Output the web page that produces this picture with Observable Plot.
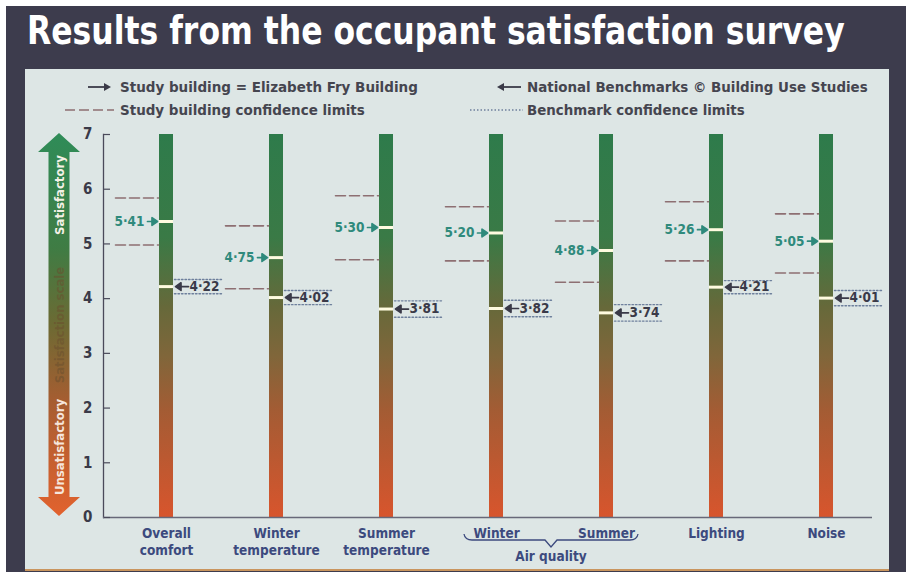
<!DOCTYPE html>
<html><head><meta charset="utf-8">
<script src="https://cdn.jsdelivr.net/npm/d3@7"></script>
<script src="https://cdn.jsdelivr.net/npm/@observablehq/plot@0.6"></script>
<style>
html,body{margin:0;padding:0;background:#ffffff;width:906px;height:572px;overflow:hidden;}
#frame{position:absolute;left:6px;top:6px;width:900px;height:566px;background:#3d3c4d;}
#title{position:absolute;left:0;top:0;overflow:visible;}
#panel{position:absolute;left:25px;top:69px;width:864px;height:500px;background:#dde6e5;border-bottom:2px solid #c9955e;}
#panel svg{display:block;}
text{font-stretch:condensed;}
</style></head><body>
<div id="frame"></div>
<svg id="title" width="906" height="69"></svg>
<div id="panel"></div>
<script>
const categories = ["Overall comfort","Winter temperature","Summer temperature","Air quality winter","Air quality summer","Lighting","Noise"];
const tickLabels = ["Overall\ncomfort","Winter\ntemperature","Summer\ntemperature","Winter","Summer","Lighting","Noise"];
const studyValues = [5.41,4.75,5.30,5.20,4.88,5.26,5.05];
const studyUpper  = [5.84,5.33,5.88,5.68,5.42,5.77,5.55];
const studyLower  = [4.98,4.18,4.71,4.69,4.30,4.69,4.47];
const benchValues = [4.22,4.02,3.81,3.82,3.74,4.21,4.01];
const benchUpper  = [4.35,4.15,3.96,3.97,3.89,4.33,4.15];
const benchLower  = [4.09,3.89,3.66,3.67,3.59,4.09,3.87];
const yTicks = [0,1,2,3,4,5,6,7];
const scaleMax = 7;
const titleText = "Results from the occupant satisfaction survey";
const legendTexts = ["Study building = Elizabeth Fry Building","National Benchmarks © Building Use Studies","Study building confidence limits","Benchmark confidence limits"];
const groupLabel = "Air quality";
const scaleLabels = ["Satisfactory","Satisfaction scale","Unsatisfactory"];

const FONT = "'DejaVu Sans Condensed','DejaVu Sans','Liberation Sans',sans-serif";
const fmt = v => d3.format(".2f")(v).replace(".", "·");

const rows = categories.map((cat, i) => ({cat, study: studyValues[i], bench: benchValues[i]}));
const studyCL = categories.flatMap((cat, i) => [{cat, v: studyUpper[i]}, {cat, v: studyLower[i]}]);
const benchCL = categories.flatMap((cat, i) => [{cat, v: benchUpper[i]}, {cat, v: benchLower[i]}]);

const lineShape = {draw(ctx, l) { ctx.moveTo(0, 0); ctx.lineTo(0, -l); }};
const arrowShape = {draw(ctx, l) {
  const h = 5.5, w = 3.8;
  ctx.moveTo(0, 0); ctx.lineTo(0, -l + h);
  ctx.moveTo(0, -l); ctx.lineTo(-w, -l + h); ctx.lineTo(w, -l + h); ctx.closePath();
}};

const studyColor = "#2f8a7c", benchColor = "#3a3a48";

const chart = Plot.plot({
  width: 864, height: 500,
  marginTop: 65, marginBottom: 52, marginLeft: 78, marginRight: 17,
  style: {background: "transparent", fontFamily: FONT, overflow: "visible"},
  x: {type: "band", domain: categories, range: [85.5, 855.5], paddingInner: 0.873, paddingOuter: 0.4365, label: null},
  y: {domain: [0, scaleMax], label: null},
  marks: [
    Plot.barY(rows, {x: "cat", y1: 0, y2: scaleMax, fill: "url(#barGrad)"}),
    Plot.frame({anchor: "left", stroke: "#4a4a5a", strokeWidth: 1.3}),
    Plot.ruleY([0], {stroke: "#676879", strokeWidth: 1.6}),
    Plot.tickY(yTicks, {y: d => d, insetLeft: 1, insetRight: 762, stroke: "#4a4a5a", strokeWidth: 1.2}),
    Plot.axisY({ticks: yTicks, tickFormat: d => String(d), tickSize: 0, tickPadding: 11, fontSize: 15, fontWeight: "bold", fill: "#3a3a48"}),
    Plot.vector(studyCL, {x: "cat", y: "v", rotate: 90, anchor: "end", length: 43, dx: -8, shape: lineShape, stroke: "#8d6f72", strokeWidth: 1.6, strokeDasharray: "10,4"}),
    Plot.vector(benchCL, {x: "cat", y: "v", rotate: 90, anchor: "start", length: 48, dx: 8, shape: lineShape, stroke: "#6d7f9c", strokeWidth: 1.4, strokeDasharray: "1.5,2"}),
    Plot.tickY(rows, {x: "cat", y: "study", stroke: "#fffbe0", strokeWidth: 3}),
    Plot.tickY(rows, {x: "cat", y: "bench", stroke: "#fffbe0", strokeWidth: 3}),
    Plot.vector(rows, {x: "cat", y: "study", rotate: 90, anchor: "end", length: 10, dx: -9, shape: arrowShape, stroke: studyColor, fill: studyColor, strokeWidth: 1.7}),
    Plot.vector(rows, {x: "cat", y: "bench", rotate: -90, anchor: "end", length: 13, dx: 9, shape: arrowShape, stroke: benchColor, fill: benchColor, strokeWidth: 1.7}),
    Plot.text(rows, {x: "cat", y: "study", text: d => fmt(d.study), dx: -22, textAnchor: "end", fill: studyColor, fontSize: 13.5, fontWeight: "bold"}),
    Plot.text(rows, {x: "cat", y: "bench", text: d => fmt(d.bench), dx: 23, textAnchor: "start", fill: benchColor, fontSize: 13.5, fontWeight: "bold"}),
    Plot.axisX({tickSize: 0, tickPadding: 8, tickFormat: d => tickLabels[categories.indexOf(d)], fontSize: 13.5, fontWeight: "bold", fill: "#3c4a7e", lineHeight: 1.26, label: null})
  ]
});
document.getElementById("panel").appendChild(chart);

const svg = d3.select(chart);
const xs = chart.scale("x"), ys = chart.scale("y");
const xc = c => xs.apply(c) + xs.bandwidth / 2;

const defs = svg.insert("defs", ":first-child");
const bg = defs.append("linearGradient").attr("id", "barGrad").attr("x1", 0).attr("y1", 0).attr("x2", 0).attr("y2", 1);
[[0, "#2e7b4b"], [0.27, "#3a7a46"], [0.45, "#66693a"], [0.58, "#80663a"], [0.72, "#a35c34"], [1, "#d8552d"]]
  .forEach(([o, c]) => bg.append("stop").attr("offset", o).attr("stop-color", c));
const ag = defs.append("linearGradient").attr("id", "arrowGrad").attr("x1", 0).attr("y1", 0).attr("x2", 0).attr("y2", 1);
[[0, "#2f8c58"], [0.3, "#3f7c44"], [0.5, "#6c6a33"], [0.7, "#a65d31"], [1, "#e2622e"]]
  .forEach(([o, c]) => ag.append("stop").attr("offset", o).attr("stop-color", c));

// Left satisfaction-scale double arrow
const acx = 34, aTop = ys.apply(scaleMax) - 1, aBot = ys.apply(0) - 1, hw = 21, sw = 10.5, hh = 19;
svg.append("path")
  .attr("d", `M${acx},${aTop}L${acx+hw},${aTop+hh}L${acx+sw},${aTop+hh}L${acx+sw},${aBot-hh}L${acx+hw},${aBot-hh}L${acx},${aBot}L${acx-hw},${aBot-hh}L${acx-sw},${aBot-hh}L${acx-sw},${aTop+hh}L${acx-hw},${aTop+hh}Z`)
  .attr("fill", "url(#arrowGrad)");
const scaleText = (t, yy, fill, op) => svg.append("text")
  .attr("transform", `translate(${acx + 4.5},${yy}) rotate(-90)`)
  .attr("text-anchor", "middle").attr("font-family", FONT).attr("font-weight", "bold")
  .attr("font-size", 13).attr("fill", fill).attr("fill-opacity", op).text(t);
scaleText(scaleLabels[0], 126, "#f4f1e6", 1);
scaleText(scaleLabels[1], 256, "#6a4f2e", 0.55);
scaleText(scaleLabels[2], 378, "#f6e6dc", 1);

// Air quality bracket
const xw = xc(categories[3]), xsu = xc(categories[4]), mid = (xw + xsu) / 2, by = 471;
svg.append("path")
  .attr("d", `M${xw-32},${by-6}Q${xw-31},${by} ${xw-24},${by}L${mid-6},${by}L${mid},${by+7}L${mid+6},${by}L${xsu+24},${by}Q${xsu+31},${by} ${xsu+32},${by-6}`)
  .attr("fill", "none").attr("stroke", "#3c4a7e").attr("stroke-width", 1.3);
svg.append("text").attr("x", mid).attr("y", 492).attr("text-anchor", "middle")
  .attr("font-family", FONT).attr("font-weight", "bold").attr("font-size", 13.5).attr("fill", "#3c4a7e").text(groupLabel);

// fit a text horizontally into a given width by scaling
function fitText(sel, x, y, len) {
  const w = sel.node().getComputedTextLength();
  sel.attr("transform", `translate(${x},${y}) scale(${len / w},1)`);
}

// Legend
const lg = svg.append("g").attr("font-family", FONT).attr("font-weight", "bold").attr("font-size", 13.5).attr("fill", "#45454f").attr("text-anchor", "start");
const legText = (t, x, y, len) => fitText(lg.append("text").text(t), x, y, len);
const legArrow = (x1, x2, y) => {
  const dir = Math.sign(x2 - x1), h = 7, w = 4;
  lg.append("line").attr("x1", x1).attr("x2", x2 - dir * h).attr("y1", y).attr("y2", y).attr("stroke", "#3a3a48").attr("stroke-width", 1.8);
  lg.append("path").attr("d", `M${x2},${y}L${x2 - dir*h},${y-w}L${x2 - dir*h},${y+w}Z`).attr("fill", "#3a3a48");
};
legArrow(63, 86, 18);
legText(legendTexts[0], 95, 23, 298);
legArrow(496, 472, 18);
legText(legendTexts[1], 502, 23, 341);
lg.append("line").attr("x1", 40).attr("x2", 89).attr("y1", 41).attr("y2", 41).attr("stroke", "#8d6f72").attr("stroke-width", 1.6).attr("stroke-dasharray", "10,4");
legText(legendTexts[2], 95, 46, 245);
lg.append("line").attr("x1", 445).attr("x2", 498).attr("y1", 41).attr("y2", 41).attr("stroke", "#6d7f9c").attr("stroke-width", 1.4).attr("stroke-dasharray", "1.5,2");
legText(legendTexts[3], 502, 46, 218);

// Title
const tt = d3.select("#title").append("text")
  .attr("font-family", FONT).attr("font-weight", "bold").attr("font-size", 39)
  .attr("fill", "#ffffff").text(titleText);
fitText(tt, 27, 44, 818);
</script>
</body></html>
